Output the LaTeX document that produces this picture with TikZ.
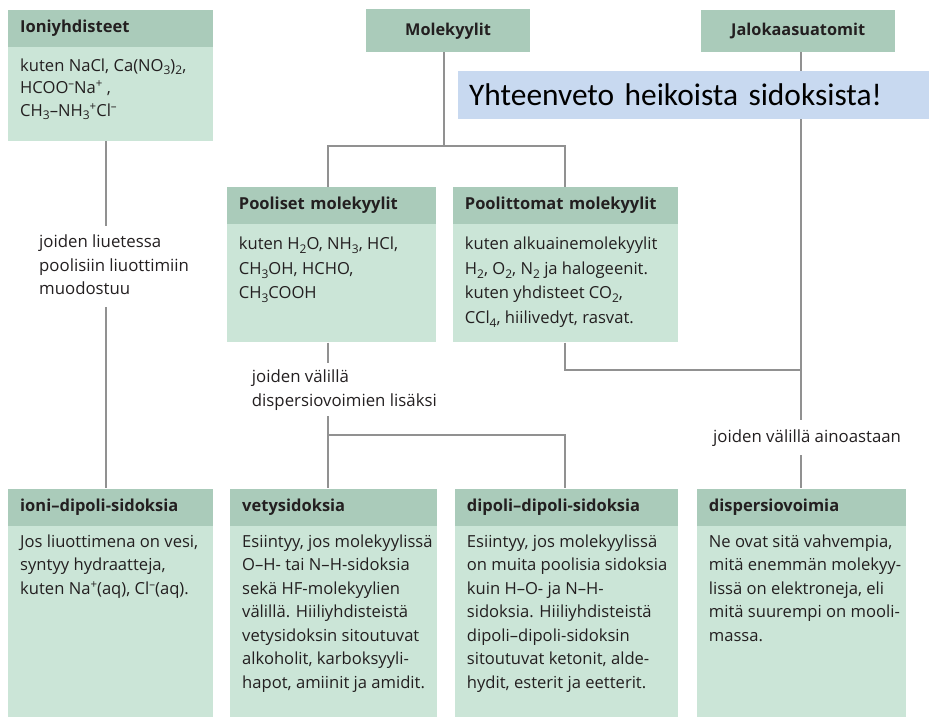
\documentclass[tikz,border=0pt]{standalone}
\usepackage{fontspec}
\setmainfont{Open Sans}
\newfontfamily\titlefont{Carlito}
\definecolor{hdrgreen}{RGB}{170,203,186}
\definecolor{bodygreen}{RGB}{203,229,215}
\definecolor{linegray}{RGB}{145,145,145}
\definecolor{notebl}{RGB}{200,217,240}
\definecolor{ink}{RGB}{35,31,32}
\newcommand{\bx}[5]{\parbox[c][#2pt][t]{#1pt}{\fontsize{16.6}{#4pt}\selectfont\lineskiplimit=-20pt\relax\raggedright\leftskip=12pt\relax\rule{0pt}{#3pt}#5}}
\newcommand{\sub}[1]{\raisebox{-3.6pt}{\fontsize{12}{12}\selectfont #1}}
\newcommand{\sups}[1]{\raisebox{6.2pt}{\fontsize{11.5}{11.5}\selectfont #1}}
\newcommand{\lblfont}{\fontsize{16.8}{23.5}\selectfont\lineskiplimit=-20pt\relax}
\tikzset{
  hdr/.style={fill=hdrgreen, anchor=north west, inner xsep=12pt, inner ysep=0pt, align=left, text=ink, font=\bfseries\fontsize{16.5}{18}\selectfont},
  tophdr/.style={fill=hdrgreen, anchor=north west, inner sep=0pt, align=center, text=ink, font=\bfseries\fontsize{16.3}{18}\selectfont},
  bodyb/.style={fill=bodygreen, anchor=north west, inner sep=0pt, text=ink},
  conn/.style={draw=linegray, line width=2pt},
  lbl/.style={anchor=north west, align=left, inner sep=0pt, text=ink, font=\lblfont}
}
\begin{document}
\begin{tikzpicture}[x=1pt,y=-1pt]
\useasboundingbox (0,0) rectangle (929,717);

% ---- top level boxes
\node[hdr, text width=181pt, minimum height=36.7pt] (ionih) at (8,10) {Ioniyhdisteet};
\node[bodyb] (ionib) at (ionih.south west) {\bx{205}{93.3}{24}{22.5}{kuten NaCl, Ca(NO\sub{3})\sub{2},\\ HCOO\sups{–}Na\sups{+} ,\\ CH\sub{3}–NH\sub{3}\sups{+}Cl\sups{–}}};

\node[tophdr, minimum width=164.3pt, minimum height=42.7pt] (mol) at (365.7,9.3) {Molekyylit};
\node[tophdr, minimum width=194pt, minimum height=42.5pt] (jalo) at (701,9.5) {Jalokaasuatomit};

% ---- middle boxes
\node[hdr, text width=185pt, minimum height=36.6pt] (polh) at (226.7,186.7) {Pooliset molekyylit};
\node[bodyb] (polb) at (polh.south west) {\bx{209}{118.4}{26}{24.5}{kuten H\sub{2}O, NH\sub{3}, HCl,\\ CH\sub{3}OH, HCHO,\\ CH\sub{3}COOH}};

\node[hdr, text width=201.3pt, minimum height=36.6pt] (npolh) at (452.7,186.7) {Poolittomat molekyylit};
\node[bodyb] (npolb) at (npolh.south west) {\bx{225.3}{118.4}{26}{24.5}{kuten alkuainemolekyylit\\ H\sub{2}, O\sub{2}, N\sub{2} ja halogeenit.\\ kuten yhdisteet CO\sub{2},\\ CCl\sub{4}, hiilivedyt, rasvat.}};

% ---- bottom boxes
\node[hdr, text width=181pt, minimum height=37.4pt] (iondh) at (8,488.3) {ioni–dipoli-sidoksia};
\node[bodyb] (iondb) at (iondh.south west) {\bx{205}{190.3}{21}{23.5}{Jos liuottimena on vesi,\\ syntyy hydraatteja,\\ kuten Na\sups{+}(aq), Cl\sups{–}(aq).}};

\node[hdr, text width=182.7pt, minimum height=37.4pt] (vetyh) at (230,488.3) {vetysidoksia};
\node[bodyb] (vetyb) at (vetyh.south west) {\bx{206.7}{190.3}{21}{23.5}{Esiintyy, jos molekyylissä\\ O–H- tai N–H-sidoksia\\ sekä HF-molekyylien\\ välillä. Hiiliyhdisteistä\\ vetysidoksin sitoutuvat\\ alkoholit, karboksyyli-\\ hapot, amiinit ja amidit.}};

\node[hdr, text width=198.6pt, minimum height=37.4pt] (diph) at (454.7,488.3) {dipoli–dipoli-sidoksia};
\node[bodyb] (dipb) at (diph.south west) {\bx{222.6}{190.3}{21}{23.5}{Esiintyy, jos molekyylissä\\ on muita poolisia sidoksia\\ kuin H–O- ja N–H-\\ sidoksia. Hiiliyhdisteistä\\ dipoli–dipoli-sidoksin\\ sitoutuvat ketonit, alde-\\ hydit, esterit ja eetterit.}};

\node[hdr, text width=185pt, minimum height=37.4pt] (disph) at (696.7,488.3) {dispersiovoimia};
\node[bodyb] (dispb) at (disph.south west) {\bx{209}{190.3}{21}{23.5}{Ne ovat sitä vahvempia,\\ mitä enemmän molekyy-\\ lissä on elektroneja, eli\\ mitä suurempi on mooli-\\ massa.}};

% ---- labels
\node[lbl] (lblL) at (39,235) {joiden liuetessa\\ poolisiin liuottimiin\\ muodostuu};
\node[lbl] (lblM) at (251.7,370) {joiden välillä\\ dispersiovoimien lisäksi};
\node[lbl] (lblR) at (713,430) {joiden välillä ainoastaan};

% ---- connector break points
\coordinate (molbar) at (444,145.5);
\coordinate (lj1) at (106,226);
\coordinate (lj2) at (106,307);
\coordinate (pb1) at (327.7,363);
\coordinate (pb2) at (327.7,416);
\coordinate (pbar) at (327.7,435);
\coordinate (jbar) at (800.7,370);
\coordinate (rj1) at (800.7,420);
\coordinate (rj2) at (800.7,455);

% ---- connectors
\draw[conn] (mol.south -| molbar) -- (molbar);
\draw[conn] (polh.north -| pb1) |- (molbar) -| ([xshift=-0.3pt]npolh.north);
\draw[conn] (ionib.south -| lj1) -- (lj1);
\draw[conn] (lj2) -- (iondh.north -| lj2);
\draw[conn] (polb.south -| pb1) -- (pb1);
\draw[conn] (pb2) -- (vetyh.north -| pb2);
\draw[conn] (pbar) -| ([xshift=-1.7pt]diph.north);
\draw[conn] ([xshift=-1pt]npolb.south) |- (jbar);
\draw[conn] (jalo.south -| rj1) -- (rj1);
\draw[conn] (rj2) -- (disph.north -| rj2);

% ---- note
\node[fill=notebl, anchor=north west, inner xsep=11pt, inner ysep=0pt, minimum height=48pt, text width=449pt, align=left, text=black, font=\titlefont\fontsize{31.4}{34}\selectfont] (title) at (458,71) {Yhteenveto heikoista sidoksista!};
\end{tikzpicture}
\end{document}
